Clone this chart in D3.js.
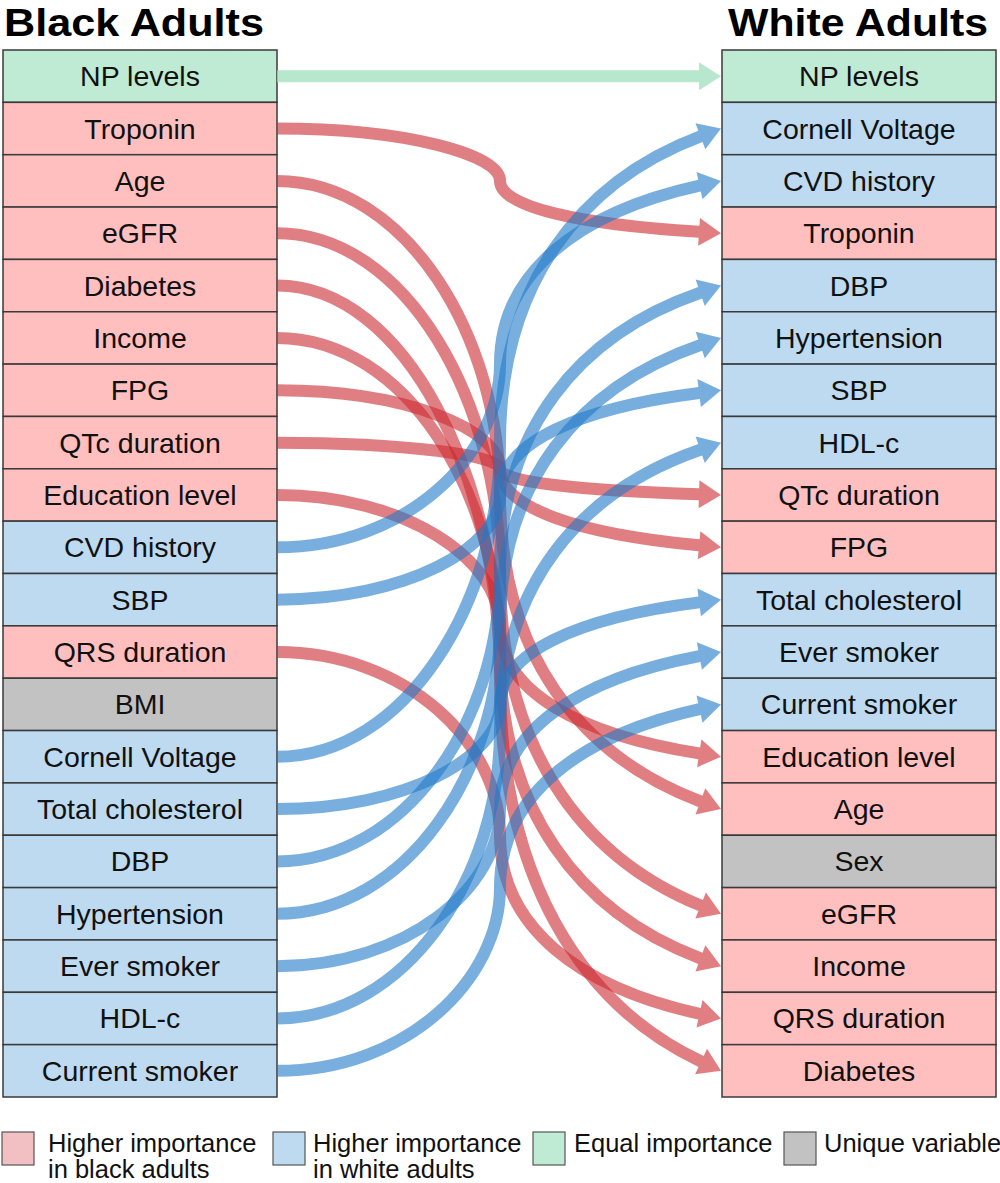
<!DOCTYPE html>
<html>
<head>
<meta charset="utf-8">
<script src="https://cdn.jsdelivr.net/npm/d3@7"></script>
<style>
  html, body { margin: 0; padding: 0; background: #fff; }
  svg { display: block; }
  text { font-family: "Liberation Sans", Arial, sans-serif; }
</style>
</head>
<body>
<div id="chart"></div>
<script>
// ---- data ----
const leftLabels = ["NP levels","Troponin","Age","eGFR","Diabetes","Income","FPG","QTc duration","Education level","CVD history","SBP","QRS duration","BMI","Cornell Voltage","Total cholesterol","DBP","Hypertension","Ever smoker","HDL-c","Current smoker"];
const leftCategories = ["equal","black","black","black","black","black","black","black","black","white","white","black","unique","white","white","white","white","white","white","white"];
const rightLabels = ["NP levels","Cornell Voltage","CVD history","Troponin","DBP","Hypertension","SBP","HDL-c","QTc duration","FPG","Total cholesterol","Ever smoker","Current smoker","Education level","Age","Sex","eGFR","Income","QRS duration","Diabetes"];
const rightCategories = ["equal","white","white","black","white","white","white","white","black","black","white","white","white","black","black","unique","black","black","black","black"];
const titles = ["Black Adults", "White Adults"];
const legendKeys = ["black","white","equal","unique"];
const legendLabels = [["Higher importance","in black adults"],["Higher importance","in white adults"],["Equal importance"],["Unique variable"]];

// ---- styles ----
const boxFill = {equal:"#bfead3", black:"#ffbfbf", white:"#bddaf0", unique:"#c2c2c2"};
const legendFill = {equal:"#bfead3", black:"#f2bfc2", white:"#bddaf0", unique:"#c2c2c2"};
const linkColor = {equal:"#9fdfbc", black:"#cc2a30", white:"#1f7ac8"};
const linkOpacity = {equal:0.75, black:0.6, white:0.6};

const W = 1000, H = 1183;
const svg = d3.select("#chart").append("svg").attr("width", W).attr("height", H);

const y = d3.scaleBand().domain(d3.range(leftLabels.length)).range([50, 1097]).padding(0);
const leftX = [3, 277], rightX = [722, 996];

const linksLayer = svg.append("g");

function drawColumn(labels, cats, x0, x1) {
  const g = svg.append("g");
  const rows = g.selectAll("g").data(labels).join("g");
  rows.append("rect")
    .attr("x", x0).attr("y", (d,i) => y(i))
    .attr("width", x1 - x0).attr("height", y.bandwidth())
    .attr("fill", (d,i) => boxFill[cats[i]])
    .attr("stroke", "#3a3a3a").attr("stroke-width", 1.5);
  rows.append("text")
    .attr("x", (x0 + x1) / 2).attr("y", (d,i) => y(i) + y.bandwidth() / 2 + 10)
    .attr("text-anchor", "middle").attr("font-size", 28.5).attr("fill", "#111")
    .text(d => d);
}
drawColumn(leftLabels, leftCategories, leftX[0], leftX[1]);
drawColumn(rightLabels, rightCategories, rightX[0], rightX[1]);
svg.node().appendChild(linksLayer.node());

// titles
svg.append("text").attr("x", 4).attr("y", 35.5).attr("font-size", 39).attr("font-weight", "bold").attr("fill", "#000")
  .attr("textLength", 260).attr("lengthAdjust", "spacingAndGlyphs").text(titles[0]);
svg.append("text").attr("x", 728).attr("y", 35.5).attr("font-size", 39).attr("font-weight", "bold").attr("fill", "#000")
  .attr("textLength", 260).attr("lengthAdjust", "spacingAndGlyphs").text(titles[1]);

// links
const xm = 500, xStart = leftX[1], xTip = rightX[0] - 1, arrowLen = 22, arrowHalf = 14;
const links = [];
leftLabels.forEach((lab, i) => {
  const j = rightLabels.indexOf(lab);
  if (j < 0) return;
  links.push({i, j, cat: leftCategories[i]});
});

links.forEach(l => {
  const y0 = y(l.i) + y.bandwidth() / 2;
  const y1 = y(l.j) + y.bandwidth() / 2;
  const ym = (y0 + y1) / 2;
  const c4 = [xTip - arrowLen - 120, y1 - (y1 - ym) * 0.17];
  let dx = xTip - c4[0], dy = y1 - c4[1];
  let len = Math.hypot(dx, dy); dx /= len; dy /= len;
  const p3 = [xTip - dx * arrowLen, y1 - dy * arrowLen];
  const p = d3.path();
  p.moveTo(xStart, y0);
  if (Math.abs(y1 - y0) < 1) {
    p.lineTo(p3[0] + dx * 3, p3[1]);
  } else {
    p.bezierCurveTo(xStart + 130, y0, xm, ym - (ym - y0) * 0.5, xm, ym);
    p.bezierCurveTo(xm, ym + (y1 - ym) * 0.5, c4[0], c4[1], p3[0], p3[1]);
    p.lineTo(p3[0] + dx * 3, p3[1] + dy * 3);
  }
  const g = linksLayer.append("g").attr("opacity", linkOpacity[l.cat]);
  g.append("path").attr("d", p.toString()).attr("fill", "none")
    .attr("stroke", linkColor[l.cat]).attr("stroke-width", 12);
  const nx = -dy, ny = dx;
  const tri = [[xTip, y1], [p3[0] + nx * arrowHalf, p3[1] + ny * arrowHalf], [p3[0] - nx * arrowHalf, p3[1] - ny * arrowHalf]];
  g.append("path").attr("d", d3.line()(tri) + "Z").attr("fill", linkColor[l.cat]);
});

// legend
const legendX = [2, 273, 533, 784];
const legendTextX = [48, 313, 574, 824];
const lg = svg.append("g");
legendKeys.forEach((k, i) => {
  lg.append("rect").attr("x", legendX[i]).attr("y", 1132).attr("width", 32).attr("height", 33)
    .attr("fill", legendFill[k]).attr("stroke", "#555").attr("stroke-width", 1.2);
  const t = lg.append("text").attr("x", legendTextX[i]).attr("y", 1152).attr("font-size", 25.5).attr("fill", "#111");
  legendLabels[i].forEach((s, k2) => {
    t.append("tspan").attr("x", legendTextX[i]).attr("dy", k2 === 0 ? 0 : 26).text(s);
  });
});
</script>
</body>
</html>
